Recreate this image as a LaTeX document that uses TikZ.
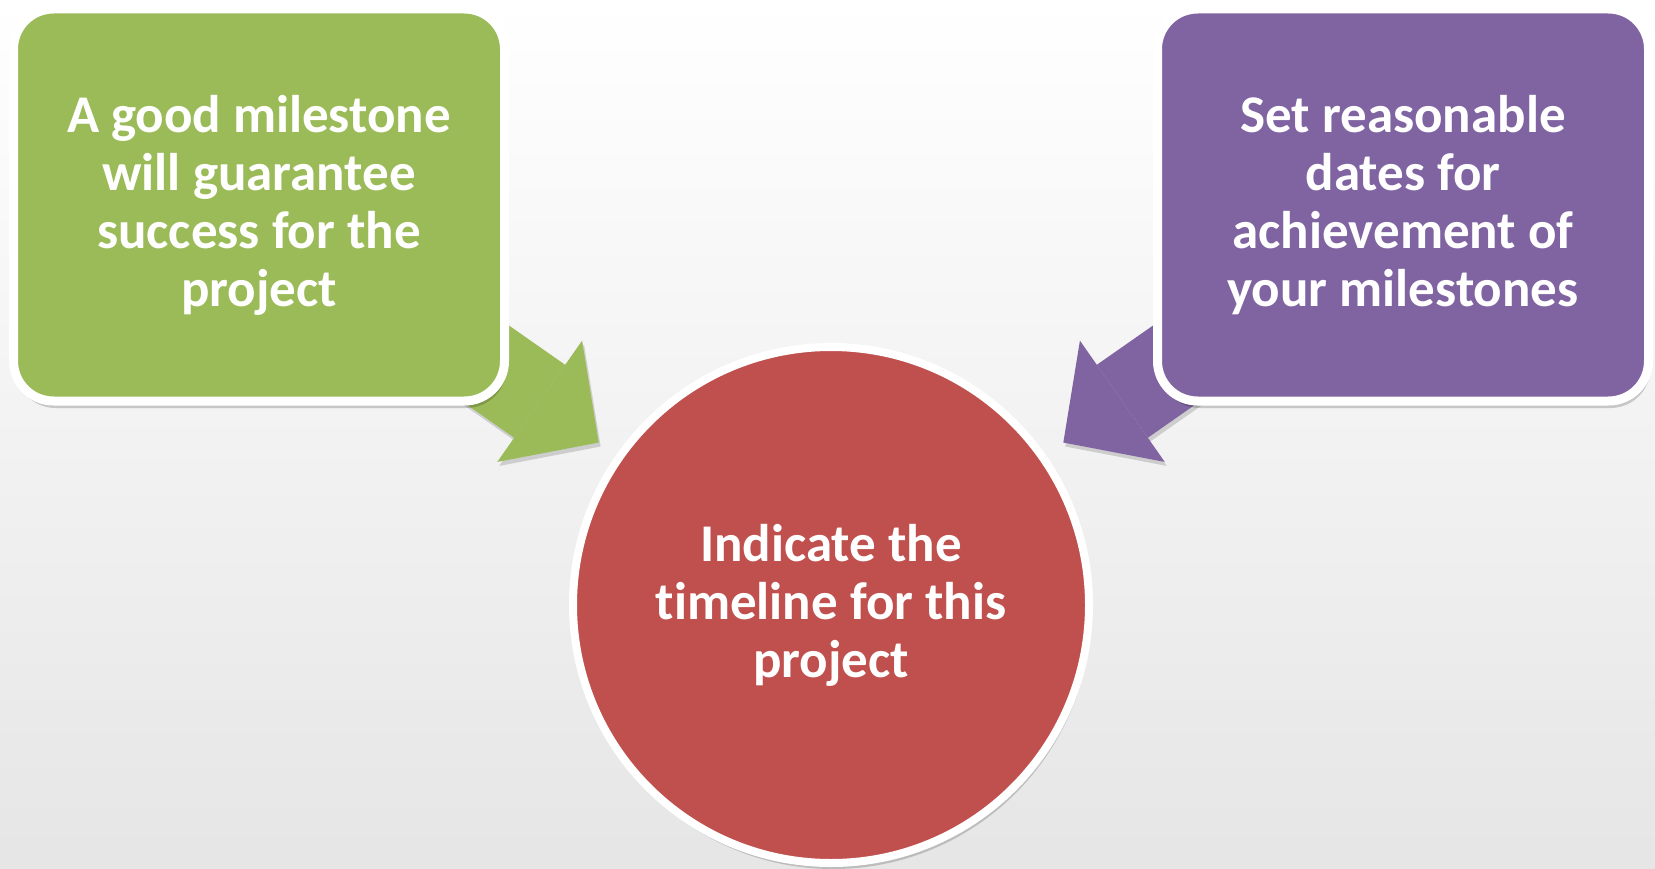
\documentclass[tikz,border=0pt]{standalone}
\usepackage{fontspec}
\setmainfont{Carlito}[Ligatures=NoCommon]
\usetikzlibrary{arrows.meta,shadows}
\definecolor{mgreen}{HTML}{9BBB59}
\definecolor{mpurple}{HTML}{8064A2}
\definecolor{mred}{HTML}{C0504D}
\pgfdeclarelayer{back}
\pgfdeclarelayer{arrows}
\pgfsetlayers{back,arrows,main}

\begin{document}
\begin{tikzpicture}[x=1pt,y=1pt,
    card/.style={rectangle, rounded corners=40pt, draw=white, line width=9pt,
        minimum width=491pt, minimum height=392pt, inner sep=0pt, text=white,
        align=center, font=\fontsize{53}{58}\selectfont\bfseries,
        drop shadow={shadow xshift=2pt, shadow yshift=-7pt, fill=black, opacity=0.18}},
    hub/.style={circle, draw=white, line width=8pt, minimum size=516pt,
        inner sep=0pt, text=white, align=center,
        font=\fontsize{53}{58}\selectfont\bfseries,
        drop shadow={shadow xshift=2pt, shadow yshift=-6pt, fill=black, opacity=0.18}},
    link/.style={line width=89pt, shorten >=283.5pt,
        -{Triangle[width=148pt, length=72pt, line width=0pt]}},
    linkshadow/.style={link, black, opacity=0.15,
        transform canvas={xshift=2pt, yshift=-4pt}}]
    \begin{pgfonlayer}{back}
        \shade[top color=white, bottom color=black!10] (0,0) rectangle (1655,-869);
    \end{pgfonlayer}
    \node[card, fill=mgreen] (milestone) at (259,-205) {A good milestone\\will guarantee\\success for the\\project};
    \node[card, fill=mpurple] (dates) at (1403,-205) {Set reasonable\\dates for\\achievement of\\your milestones};
    \node[hub, fill=mred] (timeline) at (831,-605) {Indicate the\\timeline for this\\project};
    \begin{pgfonlayer}{arrows}
        \draw[linkshadow] (milestone.center) -- (timeline.center);
        \draw[linkshadow] (dates.center) -- (timeline.center);
        \draw[link, mgreen] (milestone.center) -- (timeline.center);
        \draw[link, mpurple] (dates.center) -- (timeline.center);
    \end{pgfonlayer}
    \pgfresetboundingbox
    \useasboundingbox (0,0) rectangle (1655,-869);
\end{tikzpicture}
\end{document}
